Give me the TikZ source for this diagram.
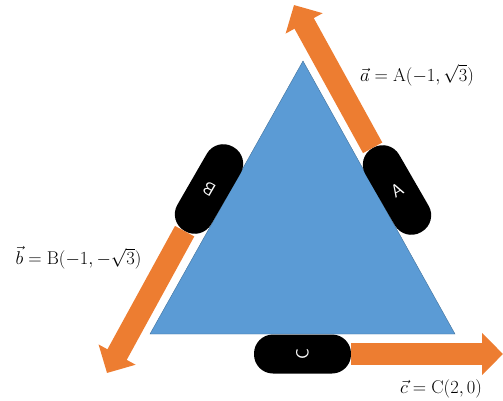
\documentclass[tikz,border=0pt]{standalone}
\usepackage{amsmath}
\usepackage{graphicx}
\usepackage{xcolor}
\definecolor{trblue}{RGB}{91,155,213}
\definecolor{trline}{RGB}{65,113,156}
\definecolor{trorange}{RGB}{237,125,49}
\usepackage{tikz}
\usetikzlibrary{arrows.meta, positioning, calc}
\newcommand{\veceq}[1]{\scalebox{1.07}{$#1$}}
\tikzset{
  pill/.style={fill=black, text=white, font=\fontsize{18}{18}\sffamily, minimum width=39pt, minimum height=97pt, rounded corners=19pt, inner sep=0pt},
  wheelvec/.style={draw=trorange, line width=22pt, -{Triangle[length=21pt, width=41pt]}},
  veclabel/.style={font=\fontsize{17.28}{20}\selectfont, inner sep=0pt}
}
\begin{document}
\begin{tikzpicture}[x=1pt, y=-1pt]
  \useasboundingbox (0,0) rectangle (503,401);

  % Triangle
  \draw[fill=trblue, draw=trline, thin] (303,61) -- (150,334) -- (455,334) -- cycle;

  % Wheels
  \node[pill, rotate=30] (pillA) at (397,190) {A};
  \node[pill, rotate=150] (pillB) at (209,189) {B};
  \node[pill, rotate=90] (pillC) at (302.5,354) {C};

  % Arrow ends
  \coordinate (tipA) at (294,5);
  \coordinate (tipB) at (107,373);
  \coordinate (tipC) at (503,354);

  % Vectors
  \draw[wheelvec] (pillA.north) -- (tipA);
  \draw[wheelvec] (pillB.north) -- (tipB);
  \draw[wheelvec] (pillC.south) -- (tipC);

  % Labels
  \node[veclabel] (labelA) at (417,75) {\veceq{\vec{a}=\mathrm{A}(-1,\sqrt{3})}};
  \node[veclabel] (labelB) at (78.5,258) {\veceq{\vec{b}=\mathrm{B}(-1,-\sqrt{3})}};
  \node[veclabel] (labelC) at (441,389) {\veceq{\vec{c}=\mathrm{C}(2,0)}};
\end{tikzpicture}
\end{document}
